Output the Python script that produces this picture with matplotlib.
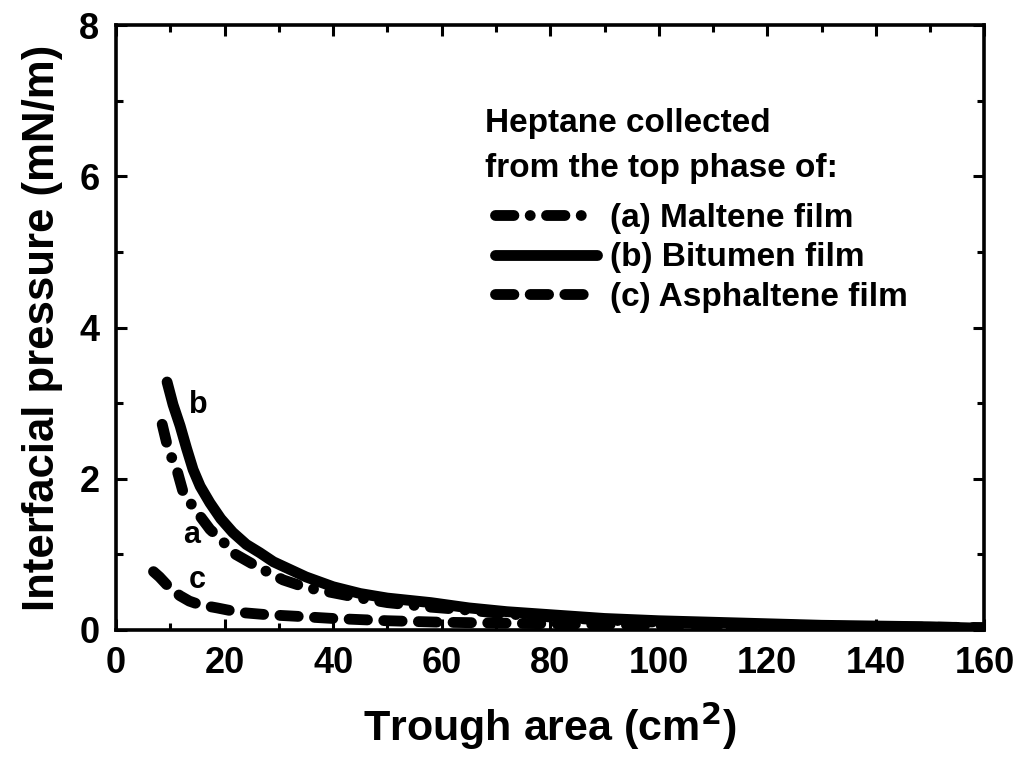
import matplotlib
matplotlib.use("Agg")
import matplotlib.pyplot as plt
from matplotlib.ticker import MultipleLocator

plt.rcParams['font.family'] = ['Liberation Sans', 'DejaVu Sans']
plt.rcParams['font.weight'] = 'bold'

# Trough area (cm^2) and interfacial pressure (mN/m) for each film
area_a = [8.5, 9.6, 11.2, 12.4, 14.9, 17.3, 19.7, 21.5, 25.9, 30.8, 35, 40, 45,
          50, 58, 65, 72, 80, 90, 100, 110, 120, 130, 140, 150, 160]
pressure_a = [2.72, 2.39, 2.12, 1.81, 1.56, 1.33, 1.17, 1.02, 0.84, 0.66, 0.56,
              0.49, 0.42, 0.36, 0.30, 0.26, 0.21, 0.17, 0.13, 0.10, 0.08, 0.07,
              0.05, 0.04, 0.03, 0.02]

area_b = [9.4, 10.5, 11.8, 13, 14.2, 15.5, 17.3, 19.3, 21.5, 24, 26.5, 29, 31.4,
          35, 40, 45, 50, 58, 65, 72, 80, 90, 100, 110, 120, 130, 140, 150, 160]
pressure_b = [3.28, 2.98, 2.70, 2.40, 2.12, 1.90, 1.68, 1.47, 1.29, 1.13, 1.02,
              0.90, 0.82, 0.70, 0.57, 0.48, 0.42, 0.36, 0.29, 0.24, 0.20, 0.15,
              0.12, 0.10, 0.08, 0.06, 0.05, 0.04, 0.02]

area_c = [6.9, 8.0, 9.3, 10.5, 11.8, 13.5, 15.5, 18.6, 22.8, 27.8, 33, 40, 50,
          60, 70, 80, 90, 100, 120, 140, 160]
pressure_c = [0.77, 0.70, 0.60, 0.52, 0.45, 0.38, 0.33, 0.29, 0.23, 0.20, 0.18,
              0.15, 0.12, 0.10, 0.09, 0.08, 0.07, 0.06, 0.05, 0.04, 0.03]

labels = ["(a) Maltene film", "(b) Bitumen film", "(c) Asphaltene film"]
legend_title = ["Heptane collected", "from the top phase of:"]

fig = plt.figure(figsize=(10.18, 7.69), dpi=100)
ax = fig.add_axes([0.114, 0.181, 0.853, 0.786])

lw = 7.8
la, = ax.plot(area_a, pressure_a, color='black', lw=lw, label=labels[0],
              dash_capstyle='round', solid_capstyle='round',
              solid_joinstyle='round', dash_joinstyle='round')
la.set_dashes((1.7, 1.5, 0.01, 1.5))
lb, = ax.plot(area_b, pressure_b, color='black', lw=lw, label=labels[1],
              solid_capstyle='round', solid_joinstyle='round')
lc, = ax.plot(area_c, pressure_c, color='black', lw=lw, label=labels[2],
              dash_capstyle='round', solid_capstyle='round',
              dash_joinstyle='round')
lc.set_dashes((1.7, 1.5))

ax.text(13.4, 2.98, "b", fontsize=22, fontweight='bold', va='center')
ax.text(12.4, 1.26, "a", fontsize=22, fontweight='bold', va='center')
ax.text(13.4, 0.66, "c", fontsize=22, fontweight='bold', va='center')

ax.set_xlim(0, 160)
ax.set_ylim(0, 8)
ax.xaxis.set_major_locator(MultipleLocator(20))
ax.xaxis.set_minor_locator(MultipleLocator(10))
ax.yaxis.set_major_locator(MultipleLocator(2))
ax.yaxis.set_minor_locator(MultipleLocator(1))
ax.tick_params(which='both', direction='in', top=True, right=True, width=2.2)
ax.tick_params(which='major', length=8, labelsize=26, pad=12)
ax.tick_params(which='minor', length=5)
for s in ax.spines.values():
    s.set_linewidth(2.6)

ax.set_xlabel("Trough area (cm$^\\mathbf{2}$)", fontsize=31, fontweight='bold', labelpad=14)
ax.set_ylabel("Interfacial pressure (mN/m)", fontsize=31.5, fontweight='bold', labelpad=12)

# Legend heading, two lines
ax.text(0.425, 0.823, legend_title[0], transform=ax.transAxes, fontsize=24,
        fontweight='bold', va='baseline', ha='left')
ax.text(0.425, 0.749, legend_title[1], transform=ax.transAxes, fontsize=24,
        fontweight='bold', va='baseline', ha='left')

leg = ax.legend(loc='upper left', bbox_to_anchor=(0.436, 0.706), frameon=False,
                fontsize=24, handlelength=3.06, handletextpad=0.39,
                labelspacing=0.25, borderpad=0, borderaxespad=0)
for t in leg.get_texts():
    t.set_fontweight('bold')

fig.savefig("out.png", dpi=100)
